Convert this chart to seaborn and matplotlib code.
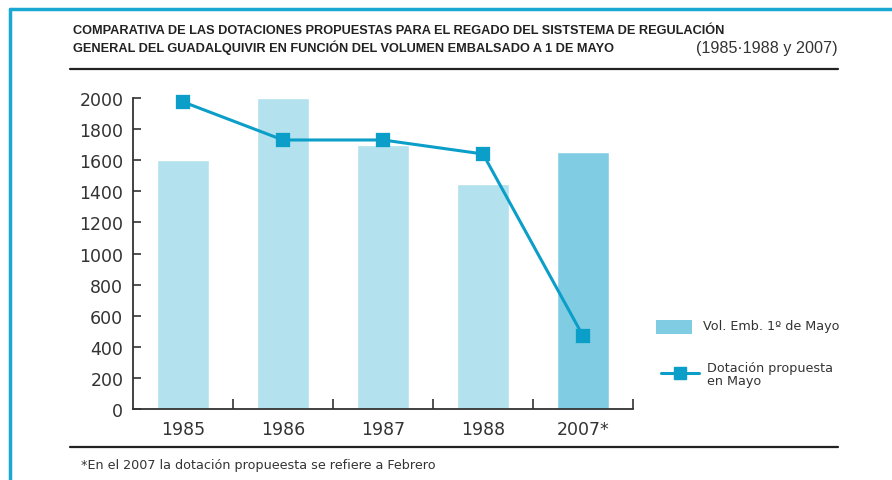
import matplotlib
matplotlib.use("Agg")
import matplotlib.pyplot as plt
import seaborn as sns
import pandas as pd
from matplotlib.patches import Rectangle
from matplotlib.lines import Line2D

years = ["1985", "1986", "1987", "1988", "2007*"]
vol_embalsado = [1600, 2000, 1700, 1450, 1650]
dotacion = [1975, 1730, 1730, 1640, 470]
yticks = [0, 200, 400, 600, 800, 1000, 1200, 1400, 1600, 1800, 2000]

bar_colors = ["#b3e1ed", "#b3e1ed", "#b3e1ed", "#b3e1ed", "#80cde3"]
line_color = "#0a9ec8"
border_color = "#1aa7d2"
text_color = "#333333"

sns.set_theme(style="white")
plt.rcParams["font.family"] = ["DejaVu Sans"]

fig = plt.figure(figsize=(8.92, 4.81), dpi=100)
W, H = 892, 481
ax = fig.add_axes([133 / W, 1 - 410 / H, 500 / W, 311 / H])

df = pd.DataFrame({"year": years, "vol": vol_embalsado, "dot": dotacion})
sns.barplot(data=df, x="year", y="vol", hue="year", palette=bar_colors,
            legend=False, width=0.52, saturation=1, ax=ax)
sns.pointplot(data=df, x="year", y="dot", color=line_color, markers="s",
              linestyles="-", markersize=8.5, linewidth=2.2, ax=ax)
for ln in ax.lines:
    ln.set_clip_on(False)

ax.set_xlim(-0.5, 4.5)
ax.set_ylim(0, 2000)
ax.set_yticks(yticks)
ax.set_xlabel("")
ax.set_ylabel("")
for s in ["top", "right"]:
    ax.spines[s].set_visible(False)
for s in ["left", "bottom"]:
    ax.spines[s].set_color(text_color)
    ax.spines[s].set_linewidth(1.3)

ax.tick_params(axis="y", direction="in", length=6, width=1.2, color=text_color,
               labelsize=12.5, labelcolor=text_color, pad=7, left=True)
ax.tick_params(axis="x", which="major", length=0, labelsize=12.5,
               labelcolor=text_color, pad=8)
ax.set_xticks([0.5, 1.5, 2.5, 3.5, 4.5], minor=True)
ax.tick_params(axis="x", which="minor", direction="in", length=7, width=1.2,
               color=text_color, bottom=True)

# frame decorations
fig.add_artist(Line2D([10 / W, 10 / W], [0, 1 - 10 / H], color=border_color, lw=2.5))
fig.add_artist(Line2D([10 / W, 1], [1 - 10 / H, 1 - 10 / H], color=border_color, lw=2.5))
fig.add_artist(Line2D([70 / W, 838 / W], [1 - 70 / H, 1 - 70 / H], color="#222222", lw=1.6))
fig.add_artist(Line2D([70 / W, 838 / W], [1 - 448 / H, 1 - 448 / H], color="#222222", lw=1.6))

narrow = ["Liberation Sans", "DejaVu Sans"]
fig.text(73 / W, 1 - 31 / H,
         "COMPARATIVA DE LAS DOTACIONES PROPUESTAS PARA EL REGADO DEL SISTSTEMA DE REGULACIÓN",
         family=narrow, weight="bold", fontsize=9.15, color="#222222", va="center")
fig.text(73 / W, 1 - 48 / H,
         "GENERAL DEL GUADALQUIVIR EN FUNCIÓN DEL VOLUMEN EMBALSADO A 1 DE MAYO",
         family=narrow, weight="bold", fontsize=9.15, color="#222222", va="center")
fig.text(838 / W, 1 - 48 / H, "(1985·1988 y 2007)", family=narrow,
         fontsize=11.6, color=text_color, va="center", ha="right")
fig.text(81 / W, 1 - 466 / H, "*En el 2007 la dotación propueesta se refiere a Febrero",
         fontsize=9.2, color=text_color, va="center")

# legend
fig.add_artist(Rectangle((656 / W, 1 - 335 / H), 36 / W, 14 / H,
                         facecolor="#80cde3", edgecolor="none"))
fig.text(703 / W, 1 - 327 / H, "Vol. Emb. 1º de Mayo", fontsize=9.2,
         color=text_color, va="center")
fig.add_artist(Line2D([661 / W, 699 / W], [1 - 374 / H, 1 - 374 / H],
                      color=line_color, lw=2.2))
fig.add_artist(Line2D([680 / W], [1 - 374 / H], color=line_color, marker="s",
                      markersize=8.5, lw=0))
fig.text(707 / W, 1 - 375 / H, "Dotación propuesta\nen Mayo", fontsize=9.2,
         color=text_color, va="center", linespacing=0.95)

fig.savefig("out.png", dpi=100)
